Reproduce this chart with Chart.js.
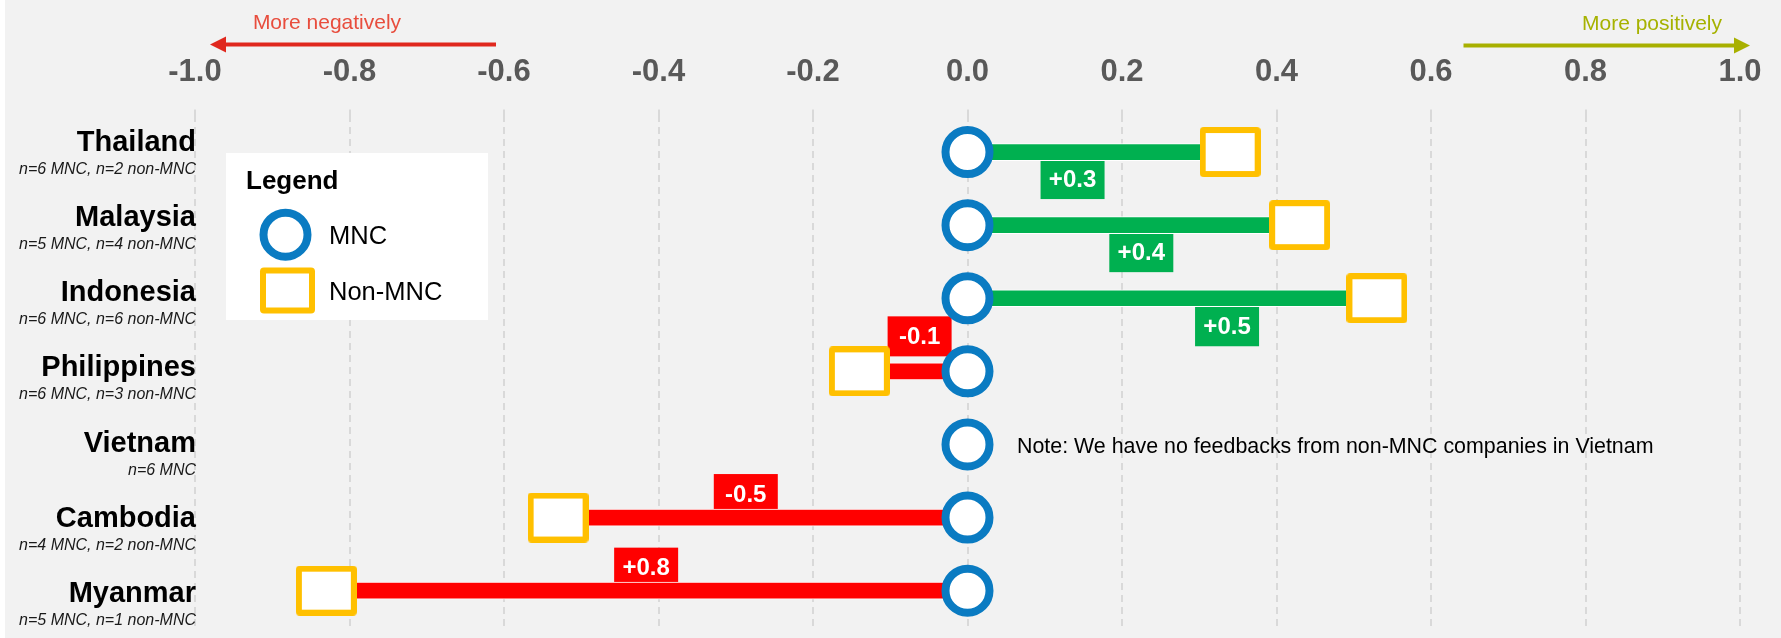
<!DOCTYPE html>
<html>
<head>
<meta charset="utf-8">
<script src="https://cdn.jsdelivr.net/npm/chart.js@4.4.1/dist/chart.umd.min.js"></script>
<style>
  html, body { margin: 0; padding: 0; background: #ffffff; }
  #wrap { width: 1781px; height: 638px; position: relative; }
  canvas { display: block; }
</style>
</head>
<body>
<div id="wrap"><canvas id="c" width="1781" height="638"></canvas></div>
<script>
// ---------------- DATA ----------------
const countries = ['Thailand', 'Malaysia', 'Indonesia', 'Philippines', 'Vietnam', 'Cambodia', 'Myanmar'];
const sampleNotes = ['n=6 MNC, n=2 non-MNC', 'n=5 MNC, n=4 non-MNC', 'n=6 MNC, n=6 non-MNC',
                     'n=6 MNC, n=3 non-MNC', 'n=6 MNC', 'n=4 MNC, n=2 non-MNC', 'n=5 MNC, n=1 non-MNC'];
const mncValues = [0, 0, 0, 0, 0, 0, 0];
const nonMncValues = [0.34, 0.43, 0.53, -0.14, null, -0.53, -0.83];
const diffLabels = ['+0.3', '+0.4', '+0.5', '-0.1', null, '-0.5', '+0.8'];
const xTickValues = [-1.0, -0.8, -0.6, -0.4, -0.2, 0.0, 0.2, 0.4, 0.6, 0.8, 1.0];
const seriesNames = ['MNC', 'Non-MNC'];
const noteText = 'Note: We have no feedbacks from non-MNC companies in Vietnam';
const arrowTexts = ['More negatively', 'More positively'];

// ---------------- LAYOUT (annotation placement) ----------------
const labelAnchorX = [0.136, 0.225, 0.336, -0.062, null, -0.287, -0.416]; // in axis units
const labelTopOffsets = [7, 7, 8, -55, null, -43.5, -43];                  // px from row centre

const FONT = "'Liberation Sans', Arial, Helvetica, sans-serif";
const BLUE = '#0A7BC2', YELLOW = '#FFC000', GREEN = '#00B050', RED = '#FF0000';

function roundRectPath(g, x, y, w, h, r) {
  g.beginPath();
  g.moveTo(x + r, y);
  g.lineTo(x + w - r, y); g.quadraticCurveTo(x + w, y, x + w, y + r);
  g.lineTo(x + w, y + h - r); g.quadraticCurveTo(x + w, y + h, x + w - r, y + h);
  g.lineTo(x + r, y + h); g.quadraticCurveTo(x, y + h, x, y + h - r);
  g.lineTo(x, y + r); g.quadraticCurveTo(x, y, x + r, y);
  g.closePath();
}
function drawSquareMarker(g, x, y, w, h, bw) {
  g.fillStyle = YELLOW;
  roundRectPath(g, x, y, w, h, 4);
  g.fill();
  g.fillStyle = '#FFFFFF';
  g.fillRect(x + bw, y + bw, w - 2 * bw, h - 2 * bw);
}
function makeSquare(w, h, bw) {
  const c = document.createElement('canvas');
  c.width = w; c.height = h;
  drawSquareMarker(c.getContext('2d'), 0, 0, w, h, bw);
  return c;
}
const squareImg = makeSquare(61, 50, 6);

const decorPlugin = {
  id: 'decor',
  beforeDraw(chart) {
    const g = chart.ctx;
    g.save();
    g.fillStyle = '#FFFFFF';
    g.fillRect(0, 0, chart.width, chart.height);
    g.fillStyle = '#F2F2F2';
    g.fillRect(5, 0, chart.width - 5, chart.height);
    g.restore();
  },
  beforeDatasetsDraw(chart) {
    const g = chart.ctx, xs = chart.scales.x, ys = chart.scales.y;
    g.save();
    diffLabels.forEach((t, i) => {
      if (t === null) return;
      const cx = xs.getPixelForValue(labelAnchorX[i]);
      const top = ys.getPixelForValue(i) + labelTopOffsets[i];
      g.fillStyle = nonMncValues[i] >= 0 ? GREEN : RED;
      g.fillRect(cx - 32, top, 64, 40);
      g.fillStyle = '#FFFFFF';
      g.font = 'bold 24px ' + FONT;
      g.textAlign = 'center';
      g.textBaseline = 'middle';
      g.fillText(t, cx, top + 21);
    });
    g.restore();
  },
  afterDraw(chart) {
    const g = chart.ctx, ys = chart.scales.y;
    g.save();
    // Row labels
    countries.forEach((name, i) => {
      const yb = ys.getPixelForValue(i) + (i * 2.1 - 1.3);
      g.fillStyle = '#000000';
      g.textAlign = 'right';
      g.textBaseline = 'alphabetic';
      g.font = 'bold 29px ' + FONT;
      g.fillText(name, 196, yb);
      g.font = 'italic 16px ' + FONT;
      g.fillStyle = '#1a1a1a';
      g.fillText(sampleNotes[i], 196, yb + 23);
    });

    // Legend box
    g.fillStyle = '#FFFFFF';
    g.fillRect(226, 153, 262, 167);
    g.fillStyle = '#000000';
    g.textAlign = 'left';
    g.font = 'bold 26px ' + FONT;
    g.fillText('Legend', 246, 189);
    g.beginPath();
    g.arc(285.5, 234.7, 22, 0, Math.PI * 2);
    g.fillStyle = '#FFFFFF';
    g.fill();
    g.lineWidth = 8;
    g.strokeStyle = BLUE;
    g.stroke();
    drawSquareMarker(g, 260, 267.5, 55, 46, 6);
    g.fillStyle = '#000000';
    g.font = '25.5px ' + FONT;
    g.fillText(seriesNames[0], 329, 243.5);
    g.fillText(seriesNames[1], 329, 300);

    // Note
    g.font = '21.4px ' + FONT;
    g.fillStyle = '#000000';
    g.fillText(noteText, 1017, ys.getPixelForValue(4) + 8.5);

    // Arrows
    g.lineWidth = 4;
    g.strokeStyle = '#E0281E';
    g.beginPath(); g.moveTo(496, 44.5); g.lineTo(222, 44.5); g.stroke();
    g.fillStyle = '#E0281E';
    g.beginPath(); g.moveTo(210, 44.5); g.lineTo(226, 36.5); g.lineTo(226, 52.5); g.closePath(); g.fill();
    g.fillStyle = '#E84D3D';
    g.font = '21px ' + FONT;
    g.textAlign = 'center';
    g.fillText(arrowTexts[0], 327, 28.5);

    g.strokeStyle = '#A8B000';
    g.beginPath(); g.moveTo(1463.5, 45.5); g.lineTo(1738, 45.5); g.stroke();
    g.fillStyle = '#A8B000';
    g.beginPath(); g.moveTo(1750, 45.5); g.lineTo(1734, 37.5); g.lineTo(1734, 53.5); g.closePath(); g.fill();
    g.fillStyle = '#A6B200';
    g.fillText(arrowTexts[1], 1652, 30);
    g.restore();
  }
};

Chart.defaults.font.family = FONT;

new Chart(document.getElementById('c'), {
  type: 'bar',
  data: {
    labels: countries,
    datasets: [
      {
        type: 'bar',
        label: 'Gap',
        data: nonMncValues.map(v => (v === null ? null : [0, v])),
        backgroundColor: nonMncValues.map(v => (v !== null && v >= 0 ? GREEN : RED)),
        borderColor: '#FFFFFF',
        borderWidth: 1,
        borderSkipped: false,
        barThickness: 17,
        order: 3
      },
      {
        type: 'line',
        label: seriesNames[1],
        data: nonMncValues,
        showLine: false,
        pointStyle: squareImg,
        pointRadius: 25,
        pointHoverRadius: 25,
        order: 2
      },
      {
        type: 'line',
        label: seriesNames[0],
        data: mncValues,
        showLine: false,
        pointStyle: 'circle',
        pointRadius: 22,
        pointHoverRadius: 22,
        pointBorderWidth: 8,
        pointBorderColor: BLUE,
        pointBackgroundColor: '#FFFFFF',
        order: 1
      }
    ]
  },
  options: {
    indexAxis: 'y',
    responsive: false,
    devicePixelRatio: 1,
    animation: false,
    events: [],
    layout: { autoPadding: false, padding: { top: 35.3, left: 195, right: 41, bottom: 10.8 } },
    plugins: { legend: { display: false }, tooltip: { enabled: false }, title: { display: false } },
    scales: {
      x: {
        type: 'linear',
        position: 'top',
        min: -1,
        max: 1,
        afterBuildTicks: (s) => { s.ticks = xTickValues.map(v => ({ value: v })); },
        ticks: {
          autoSkip: false,
          maxRotation: 0,
          padding: 18.5,
          color: '#595959',
          font: { size: 31, weight: 'bold', family: FONT },
          callback: (v) => Number(v).toFixed(1)
        },
        grid: {
          color: '#D9D9D9',
          lineWidth: 2,
          tickLength: 6,
          drawTicks: true
        },
        border: { display: false, dash: [7, 5] }
      },
      y: {
        type: 'category',
        display: false,
        offset: true
      }
    }
  },
  plugins: [decorPlugin]
});
</script>
</body>
</html>
